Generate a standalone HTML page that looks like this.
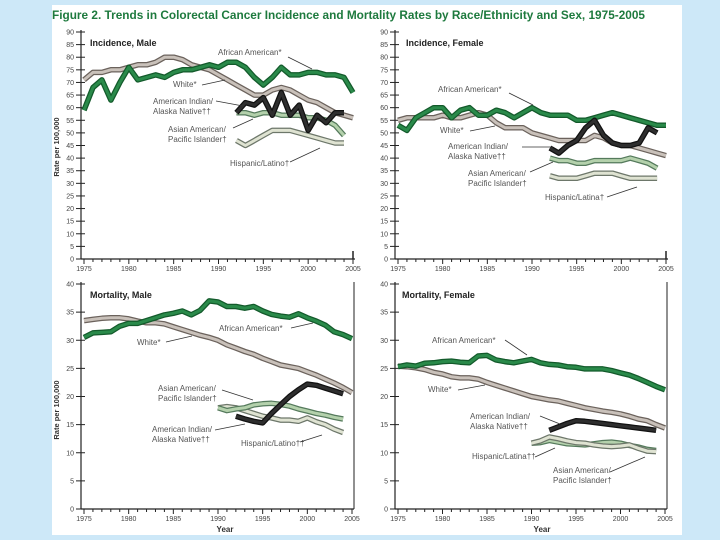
<!DOCTYPE html>
<html><head><meta charset="utf-8"><style>
html,body{margin:0;padding:0;}
body{width:720px;height:540px;background:#cde8f8;position:relative;overflow:hidden;font-family:"Liberation Sans",sans-serif;}
#frame{position:absolute;left:52px;top:5px;width:630px;height:530px;background:#fff;}
svg{position:absolute;left:0;top:0;}
</style></head><body>
<div id="frame"></div>
<svg id="chart" width="720" height="540">
<text x="52" y="19" font-size="11.5" font-weight="bold" fill="#1e7a3e" textLength="593" lengthAdjust="spacingAndGlyphs">Figure 2. Trends in Colorectal Cancer Incidence and Mortality Rates by Race/Ethnicity and Sex, 1975-2005</text>
</svg>
<script>
// ---------- data ----------
const years = [1975,1976,1977,1978,1979,1980,1981,1982,1983,1984,1985,1986,1987,1988,1989,1990,1991,1992,1993,1994,1995,1996,1997,1998,1999,2000,2001,2002,2003,2004,2005];
const yearsFrom1990 = [1990,1991,1992,1993,1994,1995,1996,1997,1998,1999,2000,2001,2002,2003,2004];
const yearsFrom1992 = [1992,1993,1994,1995,1996,1997,1998,1999,2000,2001,2002,2003,2004];

const incMaleAA = [59,68,71,63,70,76,71,72,73,72,74,75,75,76,77,76,78,78,76,72,69,72,76,73,73,74,74,73,73,72,66];
const incMaleWhite = [71,74,74,75,75,76,77,77,78,80,80,79,77,76,75,73,71,69,67,65,65,67,68,67,65,63,62,60,58,57,56];
const incMaleAIAN = [58,62,61,64,57,66,57,61,51,57,54,58,58];
const incMaleAsian = [58,58,57,58,58,57,57,57,56,56,55,53,49];
const incMaleHisp = [47,45,47,49,51,51,51,50,49,48,47,46,46];

const incFemAA = [53,51,56,58,60,60,56,59,60,57,57,59,58,56,58,60,58,57,57,57,55,55,56,57,58,57,56,55,54,53,53];
const incFemWhite = [55,56,56,56,56,57,56,56,57,58,57,54,52,52,52,50,49,48,47,47,47,47,49,48,46,45,45,44,43,42,41];
const incFemAIAN = [44,42,45,47,52,55,49,46,45,45,46,52,50];
const incFemAsian = [40,39,39,38,38,39,39,39,39,40,39,38,36];
const incFemHisp = [33,32,32,32,33,34,34,34,33,32,32,32,32];

const morMaleAA = [30.5,31.3,31.4,31.5,32.5,33,33,33.5,34,34.5,34.8,35.2,34.5,35.3,37,36.8,36,36,35.7,36,35.2,34.6,34.3,34.1,34.7,34,33.4,32.7,31.5,31,30.3];
const morMaleWhite = [33.5,33.7,33.9,34,34,33.8,33.4,33.1,33.1,32.9,32.4,31.9,31.4,30.9,30.5,30,29.2,28.6,28,27.5,26.8,26.2,25.6,25.3,25,24.4,23.8,23.1,22.4,21.6,20.7];
const morMaleAIAN = [16.5,16,15.6,15.3,17,18.5,20,21.2,22.2,22,21.5,21,20.5];
const morMaleAsian = [18,17.5,17.8,18,18.5,18.7,18.8,18.6,18.3,17.8,17.4,17,16.7,16.3,16];
const morMaleHisp = [18,18.2,18,17.5,17,16.5,16.2,15.8,15.8,15.6,16.2,15.5,15,14.2,13.6];

const morFemAA = [25.3,25.6,25.4,25.9,26,26.2,26.3,26.1,26,27.2,27.3,26.5,26.2,26,26.3,26.6,26,25.7,25.6,25.3,25.2,24.9,24.9,24.9,24.6,24.2,23.8,23.2,22.5,21.8,21.2];
const morFemWhite = [25.4,25.3,25.1,24.8,24.3,24,23.5,23.3,23.3,23.1,22.5,22,21.5,21,20.5,20,19.7,19.4,19.2,18.8,18.4,18,17.7,17.4,17.2,16.9,16.5,16,15.7,15,14.4];
const morFemAIAN = [14,14.6,15.2,15.7,15.6,15.4,15.2,15,14.8,14.6,14.4,14.2,14];
const morFemHisp = [11.7,12.1,12.8,12.5,12.1,11.8,11.7,11.4,11.2,11.1,11.2,11.4,10.8,10.3,10.2];
const morFemAsian = [11.7,11.8,12.2,11.9,11.6,11.5,11.4,11.6,11.8,11.9,11.7,11.3,11,10.6,10.4];

const incTicks = [0,5,10,15,20,25,30,35,40,45,50,55,60,65,70,75,80,85,90];
const morTicks = [0,5,10,15,20,25,30,35,40];
const xTickLabels = [1975,1980,1985,1990,1995,2000,2005];

// ---------- drawing ----------
const svg = document.getElementById('chart');
const NS = 'http://www.w3.org/2000/svg';
function mk(tag, attrs, parent){
  const e = document.createElementNS(NS, tag);
  for (const k in attrs) e.setAttribute(k, attrs[k]);
  (parent||svg).appendChild(e);
  return e;
}
const styles = {
  aa:{o:'#135a2b',f:'#2a8a4a'},
  white:{o:'#6b625c',f:'#c9c1ba'},
  aian:{o:'#111',f:'#2e2e2e'},
  asian:{o:'#557a5c',f:'#b4d1ac'},
  hisp:{o:'#6d776a',f:'#dfe3d2'}
};
function panel(cfg){
  const g = mk('g', {});
  
  
  const xs = yr => cfg.x0 + (yr-1975)*(cfg.x1-cfg.x0)/30;
  const ys = v => cfg.yb - v*(cfg.yb-cfg.yt)/cfg.ymax;
  // axes
  const ya = mk('line',{x1:cfg.ax,y1:cfg.yt-2,x2:cfg.ax,y2:cfg.yb,stroke:'#222','stroke-width':1.2},g);
  
  
  const xa = mk('line',{x1:cfg.ax,y1:cfg.yb,x2:cfg.x1+2,y2:cfg.yb,stroke:'#222','stroke-width':1.2},g);
  
  
  if (cfg.rightLine){
    mk('line',{x1:cfg.x1+2,y1:cfg.yt-2,x2:cfg.x1+2,y2:cfg.yb,stroke:'#222','stroke-width':1},g);
  } else {
    mk('line',{x1:cfg.x1,y1:cfg.yb-8,x2:cfg.x1,y2:cfg.yb,stroke:'#222','stroke-width':1.5},g);
  }
  cfg.ticks.forEach(t=>{
    const y = ys(t);
    mk('line',{x1:cfg.ax-5,y1:y,x2:cfg.ax+4,y2:y,stroke:'#222','stroke-width':1},g);
    const tl = mk('text',{x:cfg.ax-7,y:y+2.5,'font-size':7,fill:'#444','text-anchor':'end'},g);
    tl.textContent = t;
    
    
  });
  years.forEach(yr=>{
    const x = xs(yr);
    const major = yr%5===0;
    mk('line',{x1:x,y1:cfg.yb,x2:x,y2:cfg.yb+(major?5:3),stroke:'#222','stroke-width':1},g);
  });
  xTickLabels.forEach(yr=>{
    const tl = mk('text',{x:xs(yr),y:cfg.yb+12,'font-size':7,fill:'#444','text-anchor':'middle'},g);
    tl.textContent = yr;
    
    
  });
  // series
  cfg.series.forEach(s=>{
    const pts = s.yrs.map((yr,i)=>xs(yr).toFixed(1)+','+ys(s.vals[i]).toFixed(1)).join(' ');
    const st = styles[s.k];
    const o = mk('polyline',{points:pts,fill:'none',stroke:st.o,'stroke-width':5.5,'stroke-linejoin':'round'},g);
    
    
    const f = mk('polyline',{points:pts,fill:'none',stroke:st.f,'stroke-width':3,'stroke-linejoin':'round'},g);
    
    
  });
  // title
  const t = mk('text',{x:cfg.tx,y:cfg.ty,'font-size':9,'font-weight':'bold',fill:'#222'},g);
  t.textContent = cfg.title;
  
  
  // labels
  cfg.labels.forEach(l=>{
    l.lines.forEach((ln,i)=>{
      const tx = mk('text',{x:l.x,y:l.y+i*10,'font-size':8,fill:'#555'},g);
      tx.textContent = ln;
      
      
    });
    mk('line',{x1:l.l[0],y1:l.l[1],x2:l.l[2],y2:l.l[3],stroke:'#333','stroke-width':0.8},g);
  });
  if (cfg.ytitle){
    const yt = mk('text',{x:0,y:0,'font-size':7.5,'font-weight':'bold',fill:'#333','text-anchor':'middle',transform:`translate(59,${cfg.ytitle}) rotate(-90)`},g);
    yt.textContent = 'Rate per 100,000';
    
    
  }
  if (cfg.xtitle){
    const xt = mk('text',{x:cfg.xtitle,y:532,'font-size':8,'font-weight':'bold',fill:'#333','text-anchor':'middle'},g);
    xt.textContent = 'Year';
    
    
  }
}

panel({name:'incidence-male-panel',ax:81,x0:84,x1:353,yt:32,yb:259,ymax:90,ticks:incTicks,tx:90,ty:46,title:'Incidence, Male',ytitle:147,
  series:[{k:'hisp',yrs:yearsFrom1992,vals:incMaleHisp},{k:'asian',yrs:yearsFrom1992,vals:incMaleAsian},{k:'white',yrs:years,vals:incMaleWhite},{k:'aa',yrs:years,vals:incMaleAA},{k:'aian',yrs:yearsFrom1992,vals:incMaleAIAN}],
  labels:[{x:218,y:55,lines:['African American*'],l:[288,57,312,69]},
    {x:173,y:87,lines:['White*'],l:[202,85,225,80]},
    {x:153,y:104,lines:['American Indian/','Alaska Native††'],l:[216,101,243,106]},
    {x:168,y:132,lines:['Asian American/','Pacific Islander†'],l:[233,128,253,119]},
    {x:230,y:166,lines:['Hispanic/Latino†'],l:[290,162,320,148]}]});

panel({name:'incidence-female-panel',ax:395,x0:398,x1:666,yt:32,yb:259,ymax:90,ticks:incTicks,tx:406,ty:46,title:'Incidence, Female',
  series:[{k:'hisp',yrs:yearsFrom1992,vals:incFemHisp},{k:'asian',yrs:yearsFrom1992,vals:incFemAsian},{k:'white',yrs:years,vals:incFemWhite},{k:'aa',yrs:years,vals:incFemAA},{k:'aian',yrs:yearsFrom1992,vals:incFemAIAN}],
  labels:[{x:438,y:92,lines:['African American*'],l:[509,93,533,105]},
    {x:440,y:133,lines:['White*'],l:[470,131,495,126]},
    {x:448,y:149,lines:['American Indian/','Alaska Native††'],l:[522,147,553,147]},
    {x:468,y:176,lines:['Asian American/','Pacific Islander†'],l:[530,172,553,162]},
    {x:545,y:200,lines:['Hispanic/Latina†'],l:[607,197,637,187]}]});

panel({name:'mortality-male-panel',ax:81,x0:84,x1:352,yt:284,yb:509,ymax:40,ticks:morTicks,tx:90,ty:298,title:'Mortality, Male',ytitle:410,xtitle:225,rightLine:true,
  series:[{k:'hisp',yrs:yearsFrom1990,vals:morMaleHisp},{k:'asian',yrs:yearsFrom1990,vals:morMaleAsian},{k:'white',yrs:years,vals:morMaleWhite},{k:'aa',yrs:years,vals:morMaleAA},{k:'aian',yrs:yearsFrom1992,vals:morMaleAIAN}],
  labels:[{x:219,y:331,lines:['African American*'],l:[291,328,313,323]},
    {x:137,y:345,lines:['White*'],l:[166,342,192,336]},
    {x:158,y:391,lines:['Asian American/','Pacific Islander†'],l:[222,390,253,400]},
    {x:152,y:432,lines:['American Indian/','Alaska Native††'],l:[215,430,245,424]},
    {x:241,y:446,lines:['Hispanic/Latino††'],l:[300,442,322,435]}]});

panel({name:'mortality-female-panel',ax:395,x0:398,x1:665,yt:284,yb:509,ymax:40,ticks:morTicks,tx:402,ty:298,title:'Mortality, Female',xtitle:542,rightLine:true,
  series:[{k:'asian',yrs:yearsFrom1990,vals:morFemAsian},{k:'hisp',yrs:yearsFrom1990,vals:morFemHisp},{k:'white',yrs:years,vals:morFemWhite},{k:'aa',yrs:years,vals:morFemAA},{k:'aian',yrs:yearsFrom1992,vals:morFemAIAN}],
  labels:[{x:432,y:343,lines:['African American*'],l:[505,340,527,355]},
    {x:428,y:392,lines:['White*'],l:[458,390,485,385]},
    {x:470,y:419,lines:['American Indian/','Alaska Native††'],l:[540,416,560,424]},
    {x:472,y:459,lines:['Hispanic/Latina††'],l:[535,457,555,448]},
    {x:553,y:473,lines:['Asian American/','Pacific Islander†'],l:[610,472,645,457]}]});
</script>
</body></html>
